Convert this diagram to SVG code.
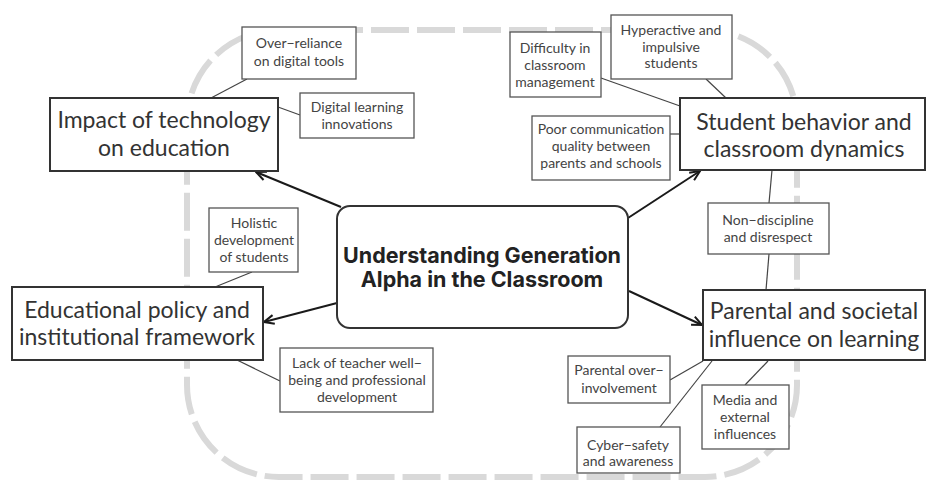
<svg xmlns="http://www.w3.org/2000/svg" width="927" height="481" viewBox="0 0 927 481">
<defs>
<marker id="ah" viewBox="0 0 12 12" refX="11" refY="6" markerWidth="12" markerHeight="12" markerUnits="userSpaceOnUse" orient="auto">
<path d="M1,1.5 L11,6 L1,10.5" fill="none" stroke="#1a1a1a" stroke-width="2"/>
</marker>
<style>
.bg{fill:none;stroke:#d9d9d9;stroke-width:6;stroke-dasharray:38 8}
.arr{stroke:#1a1a1a;stroke-width:2;fill:none;marker-end:url(#ah)}
.ln{stroke:#444;stroke-width:1.2;fill:none}
.main rect{fill:#fff;stroke:#333;stroke-width:2}
.main text{font-family:Lato,"Liberation Sans",sans-serif;font-size:23px;fill:#333;text-anchor:middle}
.sub rect{fill:#fff;stroke:#555;stroke-width:1.3}
.sub text{font-family:Lato,"Liberation Sans",sans-serif;font-size:14px;fill:#444;text-anchor:middle}
.ctr rect{fill:#fff;stroke:#333;stroke-width:2}
.ctr text{font-family:Inter,"Liberation Sans",sans-serif;font-size:21.5px;font-weight:700;fill:#222;text-anchor:middle}
</style>
</defs>
<rect class="bg" x="187" y="30" width="610" height="447" rx="92" ry="92"/>
<g id="connectors">
<line class="arr" x1="341" y1="207" x2="256" y2="172"/>
<line class="arr" x1="628" y1="218" x2="700" y2="171"/>
<line class="arr" x1="337" y1="303" x2="264" y2="322"/>
<line class="arr" x1="629" y1="291" x2="702" y2="325"/>
<line class="ln" x1="247" y1="79" x2="211" y2="98"/>
<line class="ln" x1="300" y1="115" x2="278" y2="107"/>
<line class="ln" x1="601" y1="78" x2="680" y2="106"/>
<line class="ln" x1="706" y1="79" x2="726" y2="98"/>
<line class="ln" x1="670" y1="134" x2="680" y2="134"/>
<line class="ln" x1="772" y1="170" x2="769" y2="203"/>
<line class="ln" x1="769" y1="254" x2="766" y2="290"/>
<line class="ln" x1="252" y1="272" x2="215" y2="287"/>
<line class="ln" x1="280" y1="381" x2="237" y2="360"/>
<line class="ln" x1="670" y1="380" x2="703" y2="361"/>
<line class="ln" x1="660" y1="427" x2="712" y2="361"/>
<line class="ln" x1="745" y1="385" x2="768" y2="361"/>
</g>
<g id="center" class="ctr">
<rect x="337" y="206" width="291" height="122" rx="13"/>
<text x="482" y="263">Understanding Generation</text>
<text x="482" y="287">Alpha in the Classroom</text>
</g>
<g id="tech" class="main">
<rect x="50" y="98" width="228" height="73"/>
<text x="164" y="128">Impact of technology</text>
<text x="164" y="156">on education</text>
</g>
<g id="behavior" class="main">
<rect x="680" y="98" width="245" height="72"/>
<text x="804" y="130">Student behavior and</text>
<text x="804" y="157">classroom dynamics</text>
</g>
<g id="policy" class="main">
<rect x="12" y="287" width="251" height="73"/>
<text x="137" y="318">Educational policy and</text>
<text x="137" y="345">institutional framework</text>
</g>
<g id="parental" class="main">
<rect x="703" y="290" width="222" height="70"/>
<text x="814" y="319">Parental and societal</text>
<text x="814" y="347">influence on learning</text>
</g>
<g id="overreliance" class="sub">
<rect x="242" y="27" width="114" height="52"/>
<text x="299" y="48">Over−reliance</text>
<text x="299" y="66">on digital tools</text>
</g>
<g id="digital" class="sub">
<rect x="300" y="93" width="114" height="45"/>
<text x="357" y="112">Digital learning</text>
<text x="357" y="129">innovations</text>
</g>
<g id="difficulty" class="sub">
<rect x="510" y="32" width="91" height="65"/>
<text x="555" y="53">Difficulty in</text>
<text x="555" y="70">classroom</text>
<text x="555" y="87">management</text>
</g>
<g id="hyperactive" class="sub">
<rect x="611" y="15" width="121" height="64"/>
<text x="671" y="35">Hyperactive and</text>
<text x="671" y="52">impulsive</text>
<text x="671" y="68">students</text>
</g>
<g id="poorcomm" class="sub">
<rect x="532" y="116" width="138" height="64"/>
<text x="601" y="134">Poor communication</text>
<text x="601" y="151">quality between</text>
<text x="601" y="168">parents and schools</text>
</g>
<g id="nondiscipline" class="sub">
<rect x="708" y="203" width="121" height="51"/>
<text x="768" y="225">Non−discipline</text>
<text x="768" y="242">and disrespect</text>
</g>
<g id="holistic" class="sub">
<rect x="209" y="208" width="89" height="64"/>
<text x="254" y="228">Holistic</text>
<text x="254" y="245">development</text>
<text x="254" y="262">of students</text>
</g>
<g id="wellbeing" class="sub">
<rect x="280" y="348" width="153" height="64"/>
<text x="357" y="368">Lack of teacher well−</text>
<text x="357" y="385">being and professional</text>
<text x="357" y="402">development</text>
</g>
<g id="overinvolvement" class="sub">
<rect x="568" y="356" width="102" height="47"/>
<text x="619" y="375">Parental over−</text>
<text x="619" y="393">involvement</text>
</g>
<g id="cyber" class="sub">
<rect x="577" y="427" width="103" height="46"/>
<text x="628" y="450">Cyber−safety</text>
<text x="628" y="466">and awareness</text>
</g>
<g id="media" class="sub">
<rect x="702" y="385" width="87" height="64"/>
<text x="745" y="405">Media and</text>
<text x="745" y="422">external</text>
<text x="745" y="439">influences</text>
</g>
</svg>
